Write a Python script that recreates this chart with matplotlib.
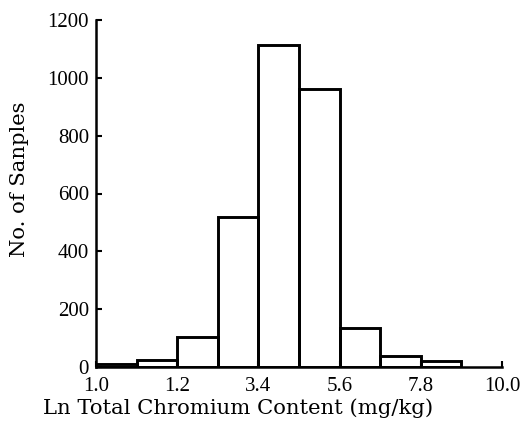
import numpy as np
import matplotlib
matplotlib.use("Agg")
import matplotlib.pyplot as plt

# counts per bin (bins are equal width on the log scale)
bin_edges = [0, 1, 2, 3, 4, 5, 6, 7, 8]
counts = [12, 25, 105, 520, 1115, 960, 135, 38, 20]
tick_pos = [0, 2, 4, 6, 8, 10]
tick_labels = ["1.0", "1.2", "3.4", "5.6", "7.8", "10.0"]
y_ticks = [0, 200, 400, 600, 800, 1000, 1200]

plt.rcParams['font.family'] = ['Liberation Serif', 'DejaVu Serif']

W, H = 522, 428
fig = plt.figure(figsize=(W / 100, H / 100), dpi=100)
ax = fig.add_axes([96 / W, 1 - 367 / H, 406 / W, 347 / H])

ax.bar(bin_edges, counts, width=1, align='edge', fill=False,
       edgecolor='black', linewidth=2.1)

ax.set_xlim(0, 10)
ax.set_ylim(0, 1200)
ax.set_xticks(tick_pos)
ax.set_xticklabels(tick_labels)
ax.set_yticks(y_ticks)

for side in ['top', 'right']:
    ax.spines[side].set_visible(False)
for side in ['left', 'bottom']:
    ax.spines[side].set_linewidth(1.8)

ax.tick_params(axis='both', direction='in', length=4, width=1.5, labelsize=15)
ax.tick_params(axis='y', pad=5)
ax.tick_params(axis='x', pad=7)

# axis titles placed in figure pixels
fig.text(43 / W, 1 - 408 / H, 'Ln Total Chromium Content (mg/kg)',
         family='DejaVu Serif', fontsize=15.2, ha='left', va='center')
fig.text(20 / W, 1 - 179 / H, 'No. of Sanples', family='DejaVu Serif',
         fontsize=15.2, rotation=90, ha='center', va='center')

fig.savefig('out.png', dpi=100)
